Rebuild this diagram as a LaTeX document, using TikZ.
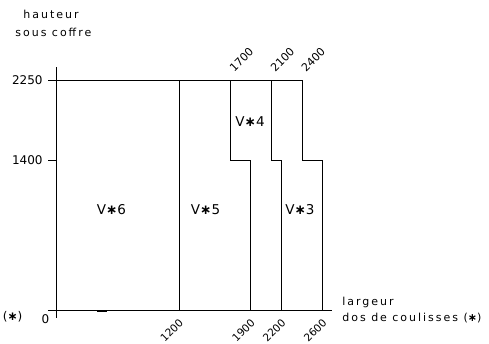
\documentclass[tikz,border=0pt]{standalone}
\usepackage{fontspec}
\setmainfont{DejaVu Sans}
\newfontfamily\widefont{DejaVu Sans}[LetterSpace=18]
\newfontfamily\volfont{DejaVu Sans}[LetterSpace=16]
\usetikzlibrary{positioning}
\newcommand{\st}{{\bfseries ∗}}

\begin{document}
\begin{tikzpicture}
	[x=0.1025pt, y=0.1025pt, line width=0.8pt,
	num/.style = {font=\fontsize{12}{14}\selectfont, inner sep=0pt},
	word/.style = {font=\widefont\fontsize{11}{13}\selectfont, inner sep=0pt, anchor=base west},
	vol/.style = {font=\volfont\fontsize{13.5}{15}\selectfont, inner sep=0pt},
	botlbl/.style = {num, font=\fontsize{10.5}{13}\selectfont, anchor=east, rotate=45},
	toplbl/.style = {num, font=\fontsize{11}{13}\selectfont, anchor=west, rotate=45}]
	\useasboundingbox (-546.3,-324.9) rectangle (4224.4,3031.2);
	% axes
	\coordinate (xa) at (-78,0);
	\coordinate (xb) at (2693,0);
	\coordinate (ya) at (0,-68);
	\coordinate (yb) at (0,2378);
	\draw (xa) -- (xb);
	\draw (ya) -- (yb);
	\draw[line width=2pt] (400,0) -- (500,0);
	\draw (-78,2250) -- (2400,2250);
	\draw (-78,1465) -- (0,1465);
	\draw (1200,2250) -- (1200,0);
	\foreach \a/\b in {1700/1900, 2100/2200, 2400/2600}
		\draw (\a,2250) -- (\a,1465) -- (\b,1465) -- (\b,0);
	% labels
	\node[word] (h1) at (-322,2846) {hauteur};
	\node[word] (h2) at (-400,2676) {sous coffre};
	\node[num, anchor=east] (l2250) at (-127,2250) {2250};
	\node[num, anchor=east] (l1400) at (-127,1465) {1400};
	\node[num] (l0) at (-102,-86) {0};
	\node[num] (s0) at (-424,-61) {(\st)};
	\node[word] (w1) at (2790,46) {largeur};
	\node[word] (w2) at (2790,-110) {dos de coulisses (\st)};
	\foreach \v in {1200,1900,2200,2600}
		\node[botlbl] (b\v) at (\v+24,-98) {\v};
	\foreach \v in {1700,2100,2400}
		\node[toplbl] (t\v) at (\v+10,2348) {\v};
	\node[vol] (v6) at (541,982) {V\st6};
	\node[vol] (v5) at (1459,982) {V\st5};
	\node[vol] (v4) at (1893,1846) {V\st4};
	\node[vol] (v3) at (2380,982) {V\st3};
\end{tikzpicture}
\end{document}
